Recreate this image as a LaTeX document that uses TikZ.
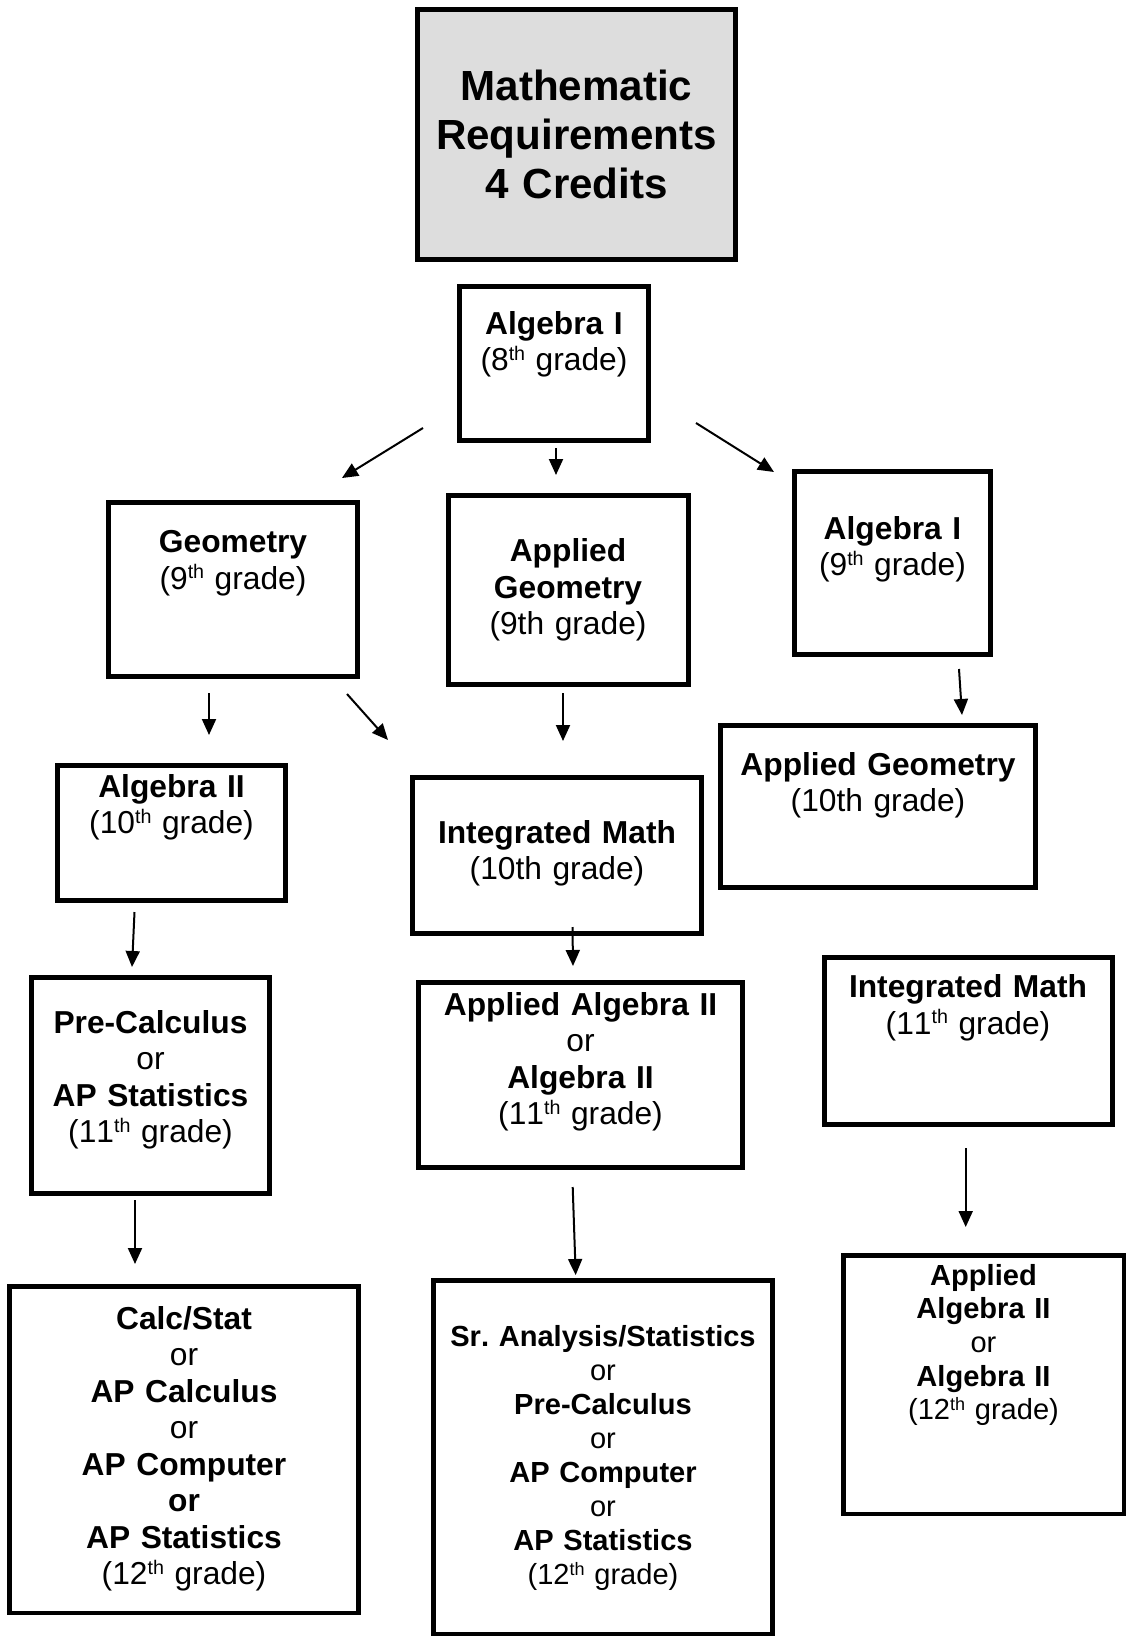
\documentclass[tikz,border=0pt]{standalone}
\usepackage{fontspec}
\setmainfont{Liberation Sans}[Kerning=Off]
\usetikzlibrary{arrows.meta}
\definecolor{titlegray}{RGB}{221,221,221}
\frenchspacing
\newcommand{\sth}{\raisebox{0.33em}{\scalebox{0.62}{th}}}
\newcommand{\boxat}[6][]{%
  \node[box,#1,minimum width={(#5-#3-4.5)*0.75pt},minimum height={(#6-#4-4.5)*0.75pt}] (#2) at ({(#3+#5)/2},{(#4+#6)/2}) {};}
\newcommand{\txtat}[5][]{\node[txt,#1] (#2) at (#3,#4) {#5};}
\begin{document}
\begin{tikzpicture}[x=0.75pt,y=-0.75pt,
  box/.style={draw=black,line width=3.4pt,rectangle,inner sep=0pt,outer sep=0pt},
  txt/.style={anchor=base,inner sep=0pt,text width=360pt,align=center,
     font=\fontsize{23.8}{27.4}\selectfont\frenchspacing},
  smalltxt/.style={font=\fontsize{21.8}{25.5}\selectfont\frenchspacing},
  arr/.style={line width=1.5pt,-{Triangle[length=12pt,width=10.5pt]}}]
\useasboundingbox[fill=white] (0,0) rectangle (1126,1638);

% boxes
\boxat[fill=titlegray,line width=3.75pt]{title}{415}{7}{738}{262}
\boxat{alg8}{457}{284}{651}{443}
\boxat{geo}{106.5}{500}{360}{679}
\boxat{appgeo9}{446}{493}{690.5}{687}
\boxat{alg9}{792}{469}{993}{657}
\boxat{alg2}{55}{763}{288}{903}
\boxat{int10}{410}{775}{704}{936}
\boxat{appgeo10}{718}{723}{1038}{890}
\boxat{precalc}{29}{975}{272}{1196}
\boxat{appalg11}{416}{980}{745}{1170}
\boxat{int11}{822}{955}{1114.5}{1126.5}
\boxat{calcstat}{7}{1284}{361}{1615}
\boxat{sran}{431}{1278}{775}{1636}
\boxat{appalg12}{841}{1253}{1127}{1516}

% texts
\txtat[font=\fontsize{31.6}{36.75}\selectfont\bfseries]{title-t}{576.5}{100}{Mathematic\\Requirements\\4 Credits}
\txtat{alg8-t}{554}{334.3}{{\bfseries Algebra I}\\(8\sth{} grade)}
\txtat{geo-t}{233}{552.7}{{\bfseries Geometry}\\(9\sth{} grade)}
\txtat{appgeo9-t}{568}{561.7}{{\bfseries Applied\\Geometry}\\(9th grade)}
\txtat{alg9-t}{892.5}{539.3}{{\bfseries Algebra I}\\(9\sth{} grade)}
\txtat{alg2-t}{171.5}{797}{{\bfseries Algebra II}\\(10\sth{} grade)}
\txtat{int10-t}{557}{843}{{\bfseries Integrated Math}\\(10th grade)}
\txtat{appgeo10-t}{878}{775}{{\bfseries Applied Geometry}\\(10th grade)}
\txtat{precalc-t}{150.5}{1033}{{\bfseries Pre-Calculus}\\or\\{\bfseries AP Statistics}\\(11\sth{} grade)}
\txtat{appalg11-t}{580.5}{1015}{{\bfseries Applied Algebra II}\\or\\{\bfseries Algebra II}\\(11\sth{} grade)}
\txtat{int11-t}{968}{997.5}{{\bfseries Integrated Math}\\(11\sth{} grade)}
\txtat{calcstat-t}{184}{1329}{{\bfseries Calc/Stat}\\or\\{\bfseries AP Calculus}\\or\\{\bfseries AP Computer}\\{\bfseries or}\\{\bfseries AP Statistics}\\(12\sth{} grade)}
\txtat[smalltxt]{sran-t}{603}{1346.7}{{\bfseries Sr. Analysis/Statistics}\\or\\{\bfseries Pre-Calculus}\\or\\{\bfseries AP Computer}\\or\\{\bfseries AP Statistics}\\(12\sth{} grade)}
\txtat[font=\fontsize{21.8}{25.3}\selectfont]{appalg12-t}{983.5}{1285}{{\bfseries Applied\\Algebra II}\\or\\{\bfseries Algebra II}\\(12\sth{} grade)}

% arrow end points
\coordinate (a1s) at (423,428);   \coordinate (a1e) at (342,478);
\coordinate (a2s) at (556,448);   \coordinate (a2e) at (556,475);
\coordinate (a3s) at (696,423);   \coordinate (a3e) at (774,472);
\coordinate (a4s) at (209,693);   \coordinate (a4e) at (209,735);
\coordinate (a5s) at (347,694);   \coordinate (a5e) at (388,740);
\coordinate (a6s) at (563,693);   \coordinate (a6e) at (563,741);
\coordinate (a7s) at (959,669);   \coordinate (a7e) at (962,715);
\coordinate (a8s) at (134.5,912); \coordinate (a8e) at (132,967);
\coordinate (a9s) at (572.5,927); \coordinate (a9e) at (573,966);
\coordinate (a10s) at (135,1200); \coordinate (a10e) at (135,1264);
\coordinate (a11s) at (572.7,1187); \coordinate (a11e) at (575.7,1275);
\coordinate (a12s) at (965.7,1148); \coordinate (a12e) at (965.7,1227);

\foreach \i in {1,...,12} { \draw[arr] (a\i s) -- (a\i e); }
\end{tikzpicture}
\end{document}
